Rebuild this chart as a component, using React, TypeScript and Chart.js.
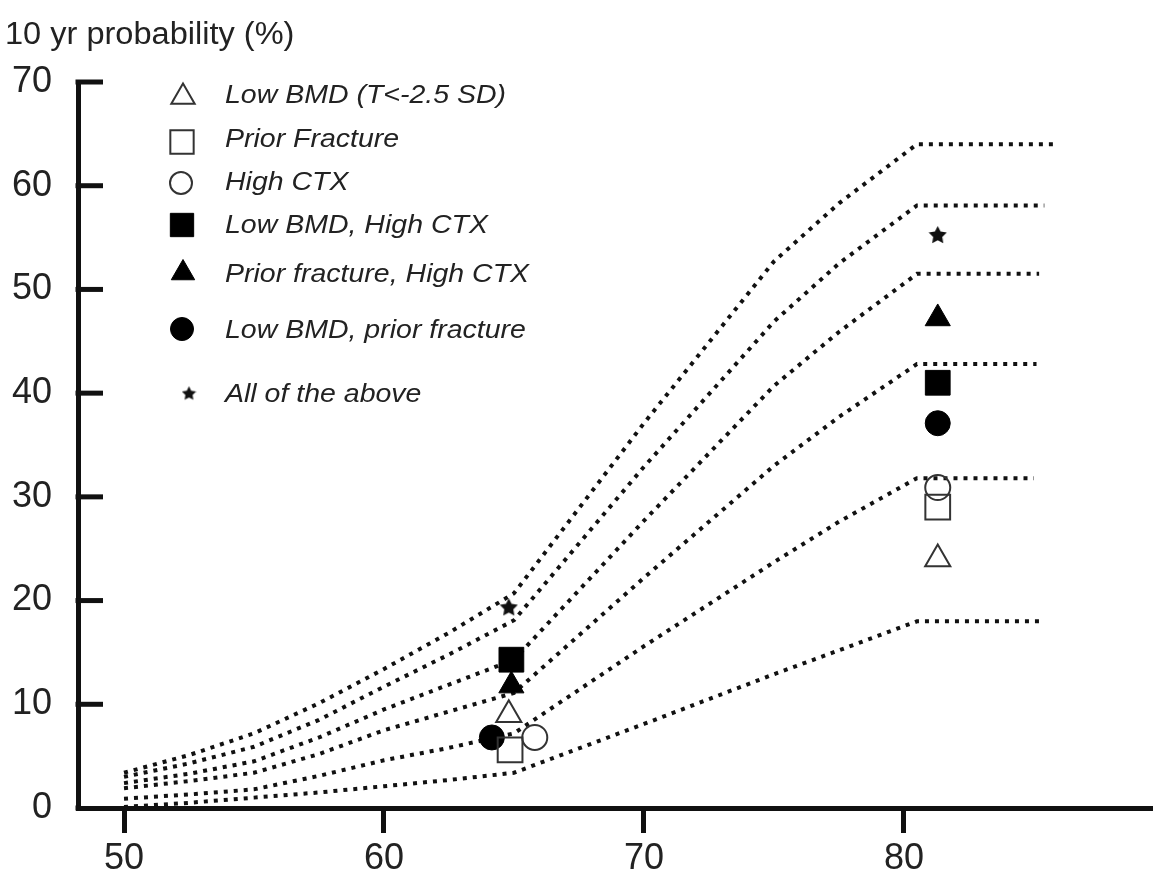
import React, { useEffect, useRef } from 'react';
import { Chart, registerables } from 'chart.js';
import { drawPoint } from 'chart.js/helpers';

Chart.register(...registerables);

// ---------- data ----------
const Y_AXIS_TITLE = '10 yr probability (%)';
const X_MIN = 48.23;
const X_MAX = 89.58;
const Y_MIN = 0;
const Y_MAX = 70;
const X_TICKS = [50, 60, 70, 80];
const Y_TICKS = [0, 10, 20, 30, 40, 50, 60, 70];

// ages at which the dotted probability curves are read (last point = end of flat part)
const CURVE_AGES = [50, 52.5, 55, 57.5, 60, 62.5, 65, 70, 75, 77.5, 80.5];
const CURVE_END_AGES = [85.8, 85.4, 85.2, 85.1, 85.0, 85.3];
const CURVE_1 = [3.4, 5.1, 7.2, 10.1, 13.4, 16.9, 20.7, 37.1, 52.7, 58.3, 64.0, 64.0];
const CURVE_2 = [3.0, 4.3, 5.9, 8.5, 11.7, 14.8, 18.1, 32.9, 46.9, 52.5, 58.1, 58.1];
const CURVE_3 = [2.4, 3.3, 4.5, 6.8, 9.5, 11.9, 14.3, 27.7, 40.7, 45.9, 51.5, 51.5];
const CURVE_4 = [1.9, 2.6, 3.4, 5.2, 7.5, 9.3, 11.1, 22.2, 33.0, 37.7, 42.8, 42.8];
const CURVE_5 = [0.9, 1.3, 1.8, 3.1, 4.6, 5.8, 7.2, 15.6, 23.7, 27.6, 31.8, 31.8];
const CURVE_6 = [0.1, 0.5, 1.0, 1.5, 2.1, 2.7, 3.4, 8.1, 12.9, 15.2, 18.0, 18.0];
const CURVES = [CURVE_1, CURVE_2, CURVE_3, CURVE_4, CURVE_5, CURVE_6];

const SERIES_LABELS = [
  'Low BMD (T<-2.5 SD)',
  'Prior Fracture',
  'High CTX',
  'Low BMD, High CTX',
  'Prior fracture, High CTX',
  'Low BMD, prior fracture',
  'All of the above',
];
const SERIES_AGE_65 = [64.8, 64.85, 65.8, 64.9, 64.9, 64.15, 64.8];
const SERIES_PROB_65 = [9.0, 5.6, 6.8, 14.3, 11.8, 6.8, 19.4];
const SERIES_AGE_80 = [81.3, 81.3, 81.3, 81.3, 81.3, 81.3, 81.3];
const SERIES_PROB_80 = [24.0, 29.0, 30.9, 41.0, 47.2, 37.1, 55.3];

// ---------- styles ----------
const FONT = '"Liberation Sans", Arial, Helvetica, sans-serif';
const INK = '#111';
const SERIES_STYLE = [
  { shape: 'triangle', filled: false, radius: 14.5, legendRadius: 13.5 },
  { shape: 'rect', filled: false, radius: 17.5, legendRadius: 16.5 },
  { shape: 'circle', filled: false, radius: 12.5, legendRadius: 11 },
  { shape: 'rect', filled: true, radius: 17.5, legendRadius: 16.5 },
  { shape: 'triangle', filled: true, radius: 14.5, legendRadius: 13.5 },
  { shape: 'circle', filled: true, radius: 12.5, legendRadius: 11.5 },
  { shape: 'star', filled: true, radius: 9, legendRadius: 7 },
];

function makeStar(size: number): HTMLCanvasElement {
  const c = document.createElement('canvas');
  c.width = size;
  c.height = size;
  const g = c.getContext('2d')!;
  const cx = size / 2;
  const cy = size / 2 + size * 0.05;
  const ro = size / 2;
  const ri = ro * 0.5;
  g.beginPath();
  for (let i = 0; i < 10; i++) {
    const r = i % 2 === 0 ? ro : ri;
    const a = -Math.PI / 2 + (i * Math.PI) / 5;
    const px = cx + r * Math.cos(a);
    const py = cy + r * Math.sin(a);
    if (i === 0) g.moveTo(px, py);
    else g.lineTo(px, py);
  }
  g.closePath();
  g.fillStyle = '#111';
  g.fill();
  return c;
}

const titlePlugin = {
  id: 'topTitle',
  afterDraw(chart: any) {
    const ctx = chart.ctx;
    ctx.save();
    ctx.font = `31px ${FONT}`;
    ctx.fillStyle = '#222';
    ctx.textBaseline = 'alphabetic';
    ctx.textAlign = 'left';
    ctx.translate(5, 44);
    ctx.scale(1.05, 1);
    ctx.fillText(Y_AXIS_TITLE, 0, 0);
    ctx.restore();
  },
};

const innerTicksPlugin = {
  id: 'innerTicks',
  afterDraw(chart: any) {
    const ctx = chart.ctx;
    const ys = chart.scales.y;
    const { left, bottom } = chart.chartArea;
    ctx.save();
    ctx.strokeStyle = INK;
    ctx.fillStyle = INK;
    ctx.lineWidth = 5;
    ctx.lineCap = 'butt';
    Y_TICKS.forEach((v) => {
      if (v === Y_MIN) return;
      const py = ys.getPixelForValue(v);
      ctx.beginPath();
      ctx.moveTo(left - 2.5, py);
      ctx.lineTo(left + 25, py);
      ctx.stroke();
    });
    ctx.fillRect(left - 2.5, bottom - 2.5, 5, 5);
    ctx.restore();
  },
};

const legendPlugin = {
  id: 'markerLegend',
  afterDraw(chart: any) {
    const ctx = chart.ctx;
    const markerCenters = [97, 142, 183, 225, 273, 329, 393];
    const baselines = [103, 147, 190, 233, 282, 338, 402];
    const markerX = [183, 182, 181, 182, 183, 182, 189];
    const series = chart.data.datasets.filter((d: any) => d.seriesIndex !== undefined);
    series.forEach((ds: any) => {
      const i = ds.seriesIndex;
      const st = SERIES_STYLE[i];
      ctx.save();
      ctx.fillStyle = ds.backgroundColor;
      ctx.strokeStyle = ds.borderColor;
      ctx.lineWidth = ds.borderWidth;
      const ps = st.shape === 'star' ? ds.legendStar : st.shape;
      drawPoint(ctx, { pointStyle: ps, rotation: 0, radius: st.legendRadius, borderWidth: ds.borderWidth }, markerX[i], markerCenters[i]);
      ctx.restore();

      ctx.save();
      ctx.font = `italic 25px ${FONT}`;
      ctx.fillStyle = '#222';
      ctx.textAlign = 'left';
      ctx.textBaseline = 'alphabetic';
      ctx.translate(225, baselines[i]);
      ctx.scale(1.14, 1);
      ctx.fillText(ds.label, 0, 0);
      ctx.restore();
    });
  },
};

export default function App() {
  const canvasRef = useRef<HTMLCanvasElement | null>(null);

  useEffect(() => {
    const canvas = canvasRef.current;
    if (!canvas) return;
    const plotStar = makeStar(19);
    const legendStar = makeStar(15);

    const curveDatasets = CURVES.map((vals, k) => ({
      type: 'line' as const,
      label: `curve ${k + 1}`,
      data: vals.map((y, j) => ({ x: j < CURVE_AGES.length ? CURVE_AGES[j] : CURVE_END_AGES[k], y })),
      borderColor: INK,
      borderWidth: 4,
      borderDash: [4, 6],
      borderCapStyle: 'butt' as const,
      pointRadius: 0,
      fill: false,
      tension: 0,
      order: 2,
    }));

    const seriesDatasets = SERIES_LABELS.map((label, i) => {
      const st = SERIES_STYLE[i];
      return {
        type: 'scatter' as const,
        label,
        seriesIndex: i,
        legendStar,
        data: [
          { x: SERIES_AGE_65[i], y: SERIES_PROB_65[i] },
          { x: SERIES_AGE_80[i], y: SERIES_PROB_80[i] },
        ],
        pointStyle: st.shape === 'star' ? plotStar : st.shape,
        pointRadius: st.radius,
        backgroundColor: st.filled ? '#000' : 'rgba(0,0,0,0)',
        borderColor: st.filled ? '#000' : '#333',
        borderWidth: st.filled ? 1 : 2,
        showLine: false,
        order: 1,
      };
    });

    const chart = new Chart(canvas, {
      type: 'scatter',
      data: { datasets: [...curveDatasets, ...seriesDatasets] as any },
      options: {
        animation: false,
        responsive: false,
        devicePixelRatio: 1,
        layout: { autoPadding: false, padding: { top: 82, left: 0, right: 0, bottom: 0 } },
        plugins: {
          legend: { display: false },
          tooltip: { enabled: false },
          title: { display: false },
        },
        scales: {
          x: {
            type: 'linear',
            min: X_MIN,
            max: X_MAX,
            afterBuildTicks: (s: any) => {
              s.ticks = X_TICKS.map((v) => ({ value: v }));
            },
            afterFit: (s: any) => {
              s.height = 65;
              s.paddingLeft = 0;
              s.paddingRight = 0;
            },
            grid: { drawOnChartArea: false, drawTicks: true, tickLength: 25, tickWidth: 5, tickColor: INK },
            border: { display: true, width: 5, color: INK },
            ticks: { font: { family: FONT, size: 36 }, color: '#222', padding: 4, maxRotation: 0, autoSkip: false },
          },
          y: {
            type: 'linear',
            min: Y_MIN,
            max: Y_MAX,
            afterBuildTicks: (s: any) => {
              s.ticks = Y_TICKS.map((v) => ({ value: v }));
            },
            afterFit: (s: any) => {
              s.width = 78;
              s.paddingTop = 0;
              s.paddingBottom = 0;
            },
            grid: { drawOnChartArea: false, drawTicks: false },
            border: { display: true, width: 5, color: INK },
            ticks: { font: { family: FONT, size: 36 }, color: '#222', padding: 26, autoSkip: false },
          },
        },
      },
      plugins: [titlePlugin, innerTicksPlugin, legendPlugin],
    } as any);

    return () => chart.destroy();
  }, []);

  return (
    <div style={{ position: 'fixed', left: 0, top: 0, width: 1153, height: 873, background: '#fff' }}>
      <canvas ref={canvasRef} width={1153} height={873} style={{ display: 'block', width: 1153, height: 873 }} />
    </div>
  );
}
